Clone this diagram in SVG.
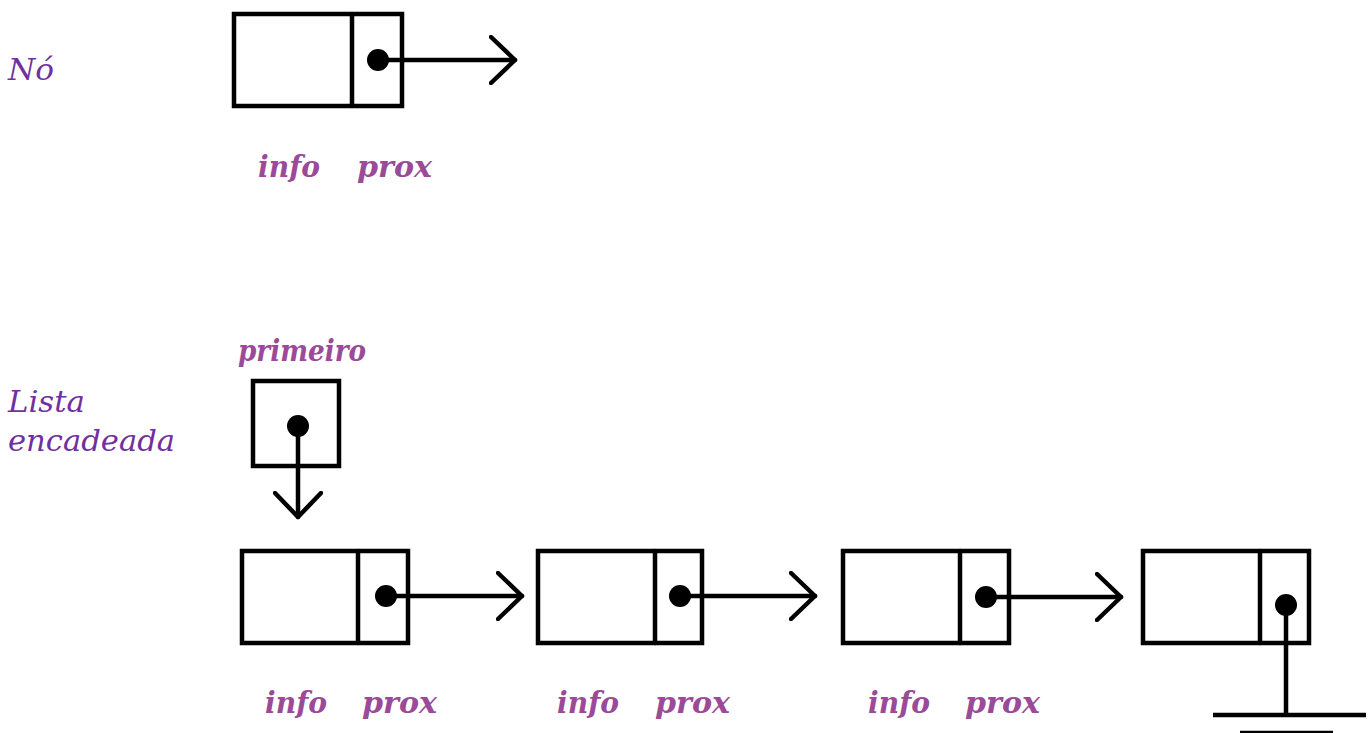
<svg xmlns="http://www.w3.org/2000/svg" width="1372" height="733" viewBox="0 0 1372 733">
<defs>
<style>
.box{fill:#fff;stroke:#000;stroke-width:4.5}
.ln{fill:none;stroke:#000;stroke-width:4.5;stroke-linecap:round;stroke-linejoin:round}
.dot{fill:#000}
.title{font-family:"DejaVu Serif","Liberation Serif",serif;font-style:italic;font-size:30px;fill:#7030A0}
.lbl{font-family:"DejaVu Serif","Liberation Serif",serif;font-style:italic;font-weight:bold;font-size:30px;fill:#9A4A98}
</style>
<marker id="chev" viewBox="0 0 30 50" refX="26" refY="25" markerWidth="30" markerHeight="50" markerUnits="userSpaceOnUse" orient="auto">
<path d="M2,2 L26,25 L2,48" fill="none" stroke="#000" stroke-width="4.5" stroke-linecap="round" stroke-linejoin="round"/>
</marker>
</defs>
<rect width="1372" height="733" fill="#fff"/>

<text class="title" x="8" y="80" textLength="46" lengthAdjust="spacingAndGlyphs">Nó</text>
<text class="title" x="8" y="412" textLength="77" lengthAdjust="spacingAndGlyphs">Lista</text>
<text class="title" x="8" y="451" textLength="167" lengthAdjust="spacingAndGlyphs">encadeada</text>

<g id="node-top">
<rect class="box" x="234" y="14" width="168" height="92"/>
<line class="ln" x1="352" y1="14" x2="352" y2="106"/>
<circle class="dot" cx="378" cy="60" r="11"/>
<text class="lbl" x="258" y="177" textLength="62" lengthAdjust="spacingAndGlyphs">info</text>
<text class="lbl" x="357" y="177" textLength="75" lengthAdjust="spacingAndGlyphs">prox</text>
</g>

<g id="primeiro">
<text class="lbl" x="238" y="361" textLength="128" lengthAdjust="spacingAndGlyphs">primeiro</text>
<rect class="box" x="253" y="381" width="86" height="85"/>
<circle class="dot" cx="298" cy="426" r="11"/>
</g>

<g id="node1">
<rect class="box" x="242" y="551" width="166" height="92"/>
<line class="ln" x1="358" y1="551" x2="358" y2="643"/>
<circle class="dot" cx="386" cy="596" r="11"/>
<text class="lbl" x="265" y="713" textLength="62" lengthAdjust="spacingAndGlyphs">info</text>
<text class="lbl" x="362" y="713" textLength="75" lengthAdjust="spacingAndGlyphs">prox</text>
</g>

<g id="node2">
<rect class="box" x="538" y="551" width="164" height="92"/>
<line class="ln" x1="655" y1="551" x2="655" y2="643"/>
<circle class="dot" cx="680" cy="596" r="11"/>
<text class="lbl" x="557" y="713" textLength="62" lengthAdjust="spacingAndGlyphs">info</text>
<text class="lbl" x="655" y="713" textLength="75" lengthAdjust="spacingAndGlyphs">prox</text>
</g>

<g id="node3">
<rect class="box" x="843" y="551" width="166" height="92"/>
<line class="ln" x1="960" y1="551" x2="960" y2="643"/>
<circle class="dot" cx="986" cy="597" r="11"/>
<text class="lbl" x="868" y="713" textLength="62" lengthAdjust="spacingAndGlyphs">info</text>
<text class="lbl" x="965" y="713" textLength="75" lengthAdjust="spacingAndGlyphs">prox</text>
</g>

<g id="node4">
<rect class="box" x="1143" y="551" width="166" height="92"/>
<line class="ln" x1="1260" y1="551" x2="1260" y2="643"/>
<circle class="dot" cx="1286" cy="605" r="11"/>
</g>

<g id="connectors">
<line class="ln" x1="378" y1="60" x2="515" y2="60" marker-end="url(#chev)"/>
<line class="ln" x1="298" y1="426" x2="298" y2="517" marker-end="url(#chev)"/>
<line class="ln" x1="386" y1="596" x2="522" y2="596" marker-end="url(#chev)"/>
<line class="ln" x1="680" y1="596" x2="815" y2="596" marker-end="url(#chev)"/>
<line class="ln" x1="986" y1="597" x2="1121" y2="597" marker-end="url(#chev)"/>
<line class="ln" x1="1286" y1="605" x2="1286" y2="714"/>
<line x1="1213" y1="715" x2="1366" y2="715" stroke="#000" stroke-width="4.5"/>
<line x1="1240" y1="733" x2="1333" y2="733" stroke="#000" stroke-width="4.5"/>
</g>
</svg>
